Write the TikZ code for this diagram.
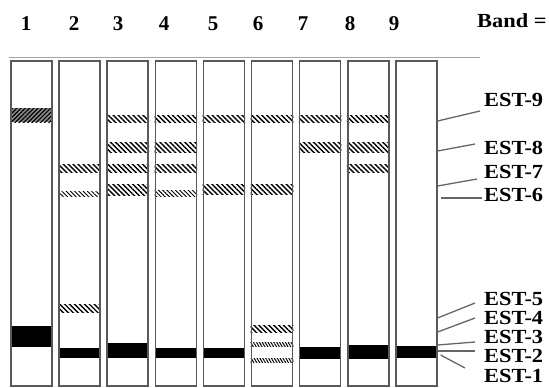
\documentclass[tikz,border=0pt]{standalone}
\usepackage{fontspec}
\setmainfont{Liberation Serif}
\newfontfamily\estfont{Liberation Serif}[FakeStretch=1.12]
\usepackage{tikz}
\usetikzlibrary{positioning,patterns.meta,backgrounds}
\tikzset{
  gel/lane/.style={draw=black!65, line width=1.6pt, minimum width=41pt, minimum height=325pt, inner sep=0pt},
  gel/hatch/.style={pattern={Lines[angle=-45,distance=3.5pt,line width=1.4pt]}},
  gel/thin/.style={pattern={Lines[angle=-45,distance=3pt,line width=0.9pt]}},
  gel/dots/.style={pattern={Lines[angle=-60,distance=2.5pt,line width=1pt]}},
  gel/dark/.style={preaction={fill=black!45}, pattern={Lines[angle=45,distance=3pt,line width=1.2pt]}},
  gel/solid/.style={fill=black},
  gel/num/.style={font=\bfseries\fontsize{21}{23}\selectfont, inner sep=0pt},
  gel/est/.style={font=\estfont\bfseries\fontsize{20}{22}\selectfont, inner sep=0pt, anchor=west},
  gel/leader/.style={draw=black!60, line width=1.3pt},
  gel/rule/.style={draw=black!35, line width=0.8pt}
}
\newcommand{\gelband}[4]{\path[gel/#4] (lane#1.west |- 0,#2) rectangle (lane#1.east |- 0,#3);}

\begin{document}
\begin{tikzpicture}[x=1pt,y=-1pt]
\useasboundingbox (0,0) rectangle (549,388);
% lanes
\node[gel/lane] (lane1) at (31.5,223.5) {};
\node[gel/lane,right=5.5pt of lane1] (lane2) {};
\node[gel/lane,right=5.5pt of lane2] (lane3) {};
\node[gel/lane,right=5.5pt of lane3] (lane4) {};
\node[gel/lane,right=5.5pt of lane4] (lane5) {};
\node[gel/lane,right=5.5pt of lane5] (lane6) {};
\node[gel/lane,right=5.5pt of lane6] (lane7) {};
\node[gel/lane,right=5.5pt of lane7] (lane8) {};
\node[gel/lane,right=5.5pt of lane8] (lane9) {};
% lane numbers
\node[gel/num] (n1) at (26,24) {1};
\node[gel/num] (n2) at (74,24) {2};
\node[gel/num] (n3) at (118,24) {3};
\node[gel/num] (n4) at (164,24) {4};
\node[gel/num] (n5) at (213,24) {5};
\node[gel/num] (n6) at (258,24) {6};
\node[gel/num] (n7) at (303,24) {7};
\node[gel/num] (n8) at (350,24) {8};
\node[gel/num] (n9) at (394,24) {9};
\node[gel/est] (band) at (477,21) {Band =};
\draw[gel/rule] (9,57) -- (480,57);
% bands
\begin{scope}[on background layer]
\gelband{1}{108}{122}{dark}
\gelband{1}{326}{347}{solid}
\gelband{2}{164}{172}{hatch}
\gelband{2}{191}{196}{thin}
\gelband{2}{304}{312}{hatch}
\gelband{2}{348}{358}{solid}
\gelband{3}{115}{122}{hatch}
\gelband{3}{142}{152}{hatch}
\gelband{3}{164}{172}{hatch}
\gelband{3}{184}{195}{hatch}
\gelband{3}{343}{358}{solid}
\gelband{4}{115}{122}{hatch}
\gelband{4}{142}{152}{hatch}
\gelband{4}{164}{172}{hatch}
\gelband{4}{190}{196}{thin}
\gelband{4}{348}{358}{solid}
\gelband{5}{115}{122}{hatch}
\gelband{5}{184}{194}{hatch}
\gelband{5}{348}{358}{solid}
\gelband{6}{115}{122}{hatch}
\gelband{6}{184}{194}{hatch}
\gelband{6}{325}{332}{hatch}
\gelband{6}{342}{346}{dots}
\gelband{6}{358}{362}{dots}
\gelband{7}{115}{122}{hatch}
\gelband{7}{142}{152}{hatch}
\gelband{7}{347}{359}{solid}
\gelband{8}{115}{122}{hatch}
\gelband{8}{142}{152}{hatch}
\gelband{8}{164}{172}{hatch}
\gelband{8}{345}{359}{solid}
\gelband{9}{346}{358}{solid}
\end{scope}
% isozyme labels
\node[gel/est] (est9) at (484,100) {EST-9};
\node[gel/est] (est8) at (484,148) {EST-8};
\node[gel/est] (est7) at (484,172) {EST-7};
\node[gel/est] (est6) at (484,195) {EST-6};
\node[gel/est] (est5) at (484,299) {EST-5};
\node[gel/est] (est4) at (484,318) {EST-4};
\node[gel/est] (est3) at (484,337) {EST-3};
\node[gel/est] (est2) at (484,356) {EST-2};
\node[gel/est] (est1) at (484,376) {EST-1};
\draw[gel/leader] (lane9.east |- 0,121) -- ([xshift=-4pt,yshift=-11pt]est9.west);
\draw[gel/leader] (lane9.east |- 0,151) -- ([xshift=-9pt,yshift=4pt]est8.west);
\draw[gel/leader] (lane9.east |- 0,186) -- ([xshift=-7pt,yshift=-7pt]est7.west);
\draw[gel/leader] ([xshift=3pt]lane9.east |- 0,198) -- ([xshift=-2pt,yshift=-3pt]est6.west);
\draw[gel/leader] (lane9.east |- 0,318) -- ([xshift=-9pt,yshift=-4pt]est5.west);
\draw[gel/leader] (lane9.east |- 0,332) -- ([xshift=-9pt]est4.west);
\draw[gel/leader] (lane9.east |- 0,345) -- ([xshift=-9pt,yshift=-5pt]est3.west);
\draw[gel/leader] (lane9.east |- 0,351) -- ([xshift=-9pt,yshift=5pt]est2.west);
\draw[gel/leader] ([xshift=3pt]lane9.east |- 0,355) -- ([xshift=-19pt,yshift=8pt]est1.west);
\end{tikzpicture}
\end{document}
